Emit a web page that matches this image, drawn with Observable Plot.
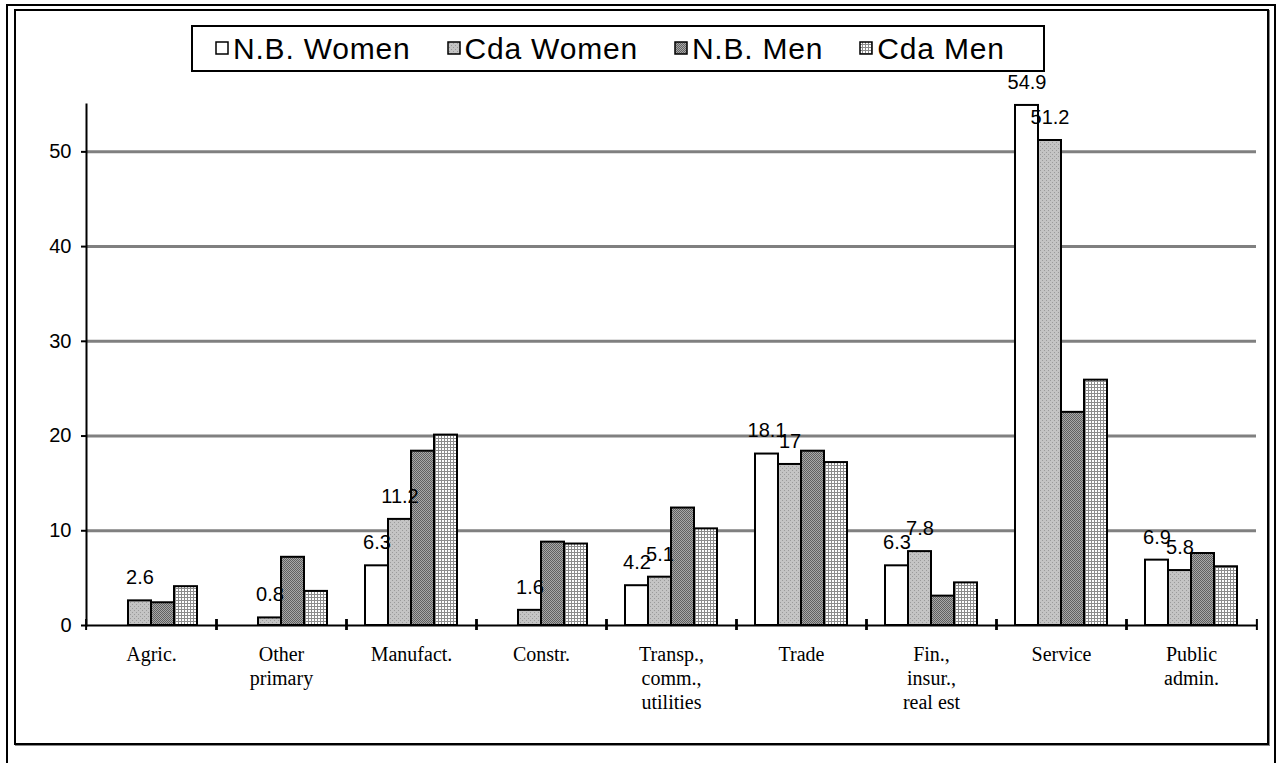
<!DOCTYPE html>
<html>
<head>
<meta charset="utf-8">
<script src="https://cdn.jsdelivr.net/npm/d3@7"></script>
<script src="https://cdn.jsdelivr.net/npm/@observablehq/plot@0.6"></script>
<style>
  body { margin: 0; background: #fff; }
  #wrap { position: relative; width: 1276px; height: 763px; overflow: hidden; font-family: "Liberation Sans", Arial, sans-serif; }
  #outer { position: absolute; left: 6px; top: 4px; width: 1270px; height: 820px; border: 2px solid #000; box-sizing: border-box; }
  #inner { position: absolute; left: 14px; top: 9px; width: 1255px; height: 736px; border: 2px solid #000; box-sizing: border-box; box-shadow: 1px 1px 0 #888; }
  #chart { position: absolute; left: 0; top: 0; }
  #legend { position: absolute; left: 191px; top: 25px; width: 854px; height: 47px; border: 2px solid #000; box-sizing: border-box; background: #fff; display: flex; align-items: center; padding-left: 22px; }
  .item { display: flex; align-items: center; margin-right: 36px; font-size: 30px; letter-spacing: 0.8px; color: #000; white-space: nowrap; }
  .item svg { margin-right: 3px; }
</style>
</head>
<body>
<div id="wrap">
  <div id="outer"></div>
  <div id="inner"></div>
  <div id="chart"></div>
  <div id="legend"></div>
</div>
<script>
// ---- data ----
const categories = ["Agric.", "Other\nprimary", "Manufact.", "Constr.", "Transp.,\ncomm.,\nutilities", "Trade", "Fin.,\ninsur.,\nreal est", "Service", "Public\nadmin."];
const series = ["N.B. Women", "Cda Women", "N.B. Men", "Cda Men"];
const nbWomen  = [0,   0,   6.3,  0,   4.2,  18.1, 6.3, 54.9, 6.9];
const cdaWomen = [2.6, 0.8, 11.2, 1.6, 5.1,  17,   7.8, 51.2, 5.8];
const nbMen    = [2.4, 7.2, 18.4, 8.8, 12.4, 18.4, 3.1, 22.5, 7.6];
const cdaMen   = [4.1, 3.6, 20.1, 8.6, 10.2, 17.2, 4.5, 25.9, 6.2];
const yTicks = [0, 10, 20, 30, 40, 50];
const labelledSeries = ["N.B. Women", "Cda Women"];
const fills = ["#ffffff", "url(#pCdaW)", "url(#pNbM)", "url(#pCdaM)"];

const valuesBySeries = [nbWomen, cdaWomen, nbMen, cdaMen];
const data = [];
series.forEach((s, si) => categories.forEach((c, ci) => data.push({cat: c, series: s, value: valuesBySeries[si][ci]})));
const bars = data.filter(d => d.value > 0);
const labels = bars.filter(d => labelledSeries.includes(d.series));

// ---- layout ----
const W = 1276, H = 763, ML = 82, MR = 17, MT = 104, MB = 138;
const step = (W - ML - MR) / categories.length;
const arial = "Liberation Sans, Arial, sans-serif";
const times = "Liberation Serif, Times New Roman, serif";

const plot = Plot.plot({
  width: W, height: H,
  marginLeft: ML, marginRight: MR, marginTop: MT, marginBottom: MB,
  style: {fontFamily: arial, background: "transparent", color: "#000"},
  fx: {domain: categories, padding: 0, label: null, axis: null},
  x: {domain: series, paddingInner: 0, paddingOuter: 0.755, axis: null},
  y: {domain: [0, 55], axis: null},
  color: {domain: series, range: fills},
  marks: [
    Plot.gridY(yTicks.filter(t => t > 0), {stroke: "#808080", strokeWidth: 3, strokeOpacity: 1}),
    Plot.barY(bars, {fx: "cat", x: "series", y: "value", fill: "series", stroke: "#000", strokeWidth: 2}),
    Plot.text(labels, {fx: "cat", x: "series", y: "value", text: d => String(d.value), dy: -23, fontSize: 20, fontFamily: arial, fill: "#000"}),
    Plot.ruleY([0], {stroke: "#000", strokeWidth: 2}),
    Plot.frame({anchor: "left", facetAnchor: "left", stroke: "#000", strokeWidth: 2}),
    Plot.axisY(yTicks, {tickSize: 5, tickPadding: 10, fontSize: 20, fontFamily: arial, strokeWidth: 2, label: null}),
    Plot.axisFx({anchor: "bottom", tickSize: 0, tickPadding: 18, fontSize: 20, fontFamily: times, lineHeight: 1.2, label: null}),
    Plot.axisFx({anchor: "bottom", fill: "none", tickSize: 11, dy: -6, dx: -step / 2, strokeWidth: 2, label: null}),
    Plot.axisFx([categories[categories.length - 1]], {anchor: "bottom", fill: "none", tickSize: 11, dy: -6, dx: step / 2, strokeWidth: 2, label: null})
  ]
});

// patterns
const svg = d3.select(plot);
const defs = svg.insert("defs", ":first-child");
const p1 = defs.append("pattern").attr("id", "pCdaW").attr("patternUnits", "userSpaceOnUse").attr("width", 4).attr("height", 4);
p1.append("rect").attr("width", 4).attr("height", 4).attr("fill", "#c4c4c4");
p1.append("rect").attr("x", 0).attr("y", 0).attr("width", 1).attr("height", 1).attr("fill", "#9a9a9a");
p1.append("rect").attr("x", 2).attr("y", 2).attr("width", 1).attr("height", 1).attr("fill", "#9a9a9a");
const p2 = defs.append("pattern").attr("id", "pNbM").attr("patternUnits", "userSpaceOnUse").attr("width", 2).attr("height", 2);
p2.append("rect").attr("width", 2).attr("height", 2).attr("fill", "#a8a8a8");
p2.append("rect").attr("x", 0).attr("y", 0).attr("width", 1).attr("height", 1).attr("fill", "#606060");
p2.append("rect").attr("x", 1).attr("y", 1).attr("width", 1).attr("height", 1).attr("fill", "#606060");
const p3 = defs.append("pattern").attr("id", "pCdaM").attr("patternUnits", "userSpaceOnUse").attr("width", 3).attr("height", 3);
p3.append("rect").attr("width", 3).attr("height", 3).attr("fill", "#ffffff");
p3.append("rect").attr("x", 0).attr("y", 0).attr("width", 3).attr("height", 1).attr("fill", "#8c8c8c");
p3.append("rect").attr("x", 0).attr("y", 0).attr("width", 1).attr("height", 3).attr("fill", "#8c8c8c");

document.getElementById("chart").appendChild(plot);

// legend
const legend = d3.select("#legend");
series.forEach((s, i) => {
  const it = legend.append("div").attr("class", "item");
  const sw = it.append("svg").attr("width", 15).attr("height", 15);
  sw.append("rect").attr("x", 1).attr("y", 1).attr("width", 12).attr("height", 12)
    .attr("fill", fills[i]).attr("stroke", "#000").attr("stroke-width", 1.5);
  it.append("span").text(s);
});
</script>
</body>
</html>
